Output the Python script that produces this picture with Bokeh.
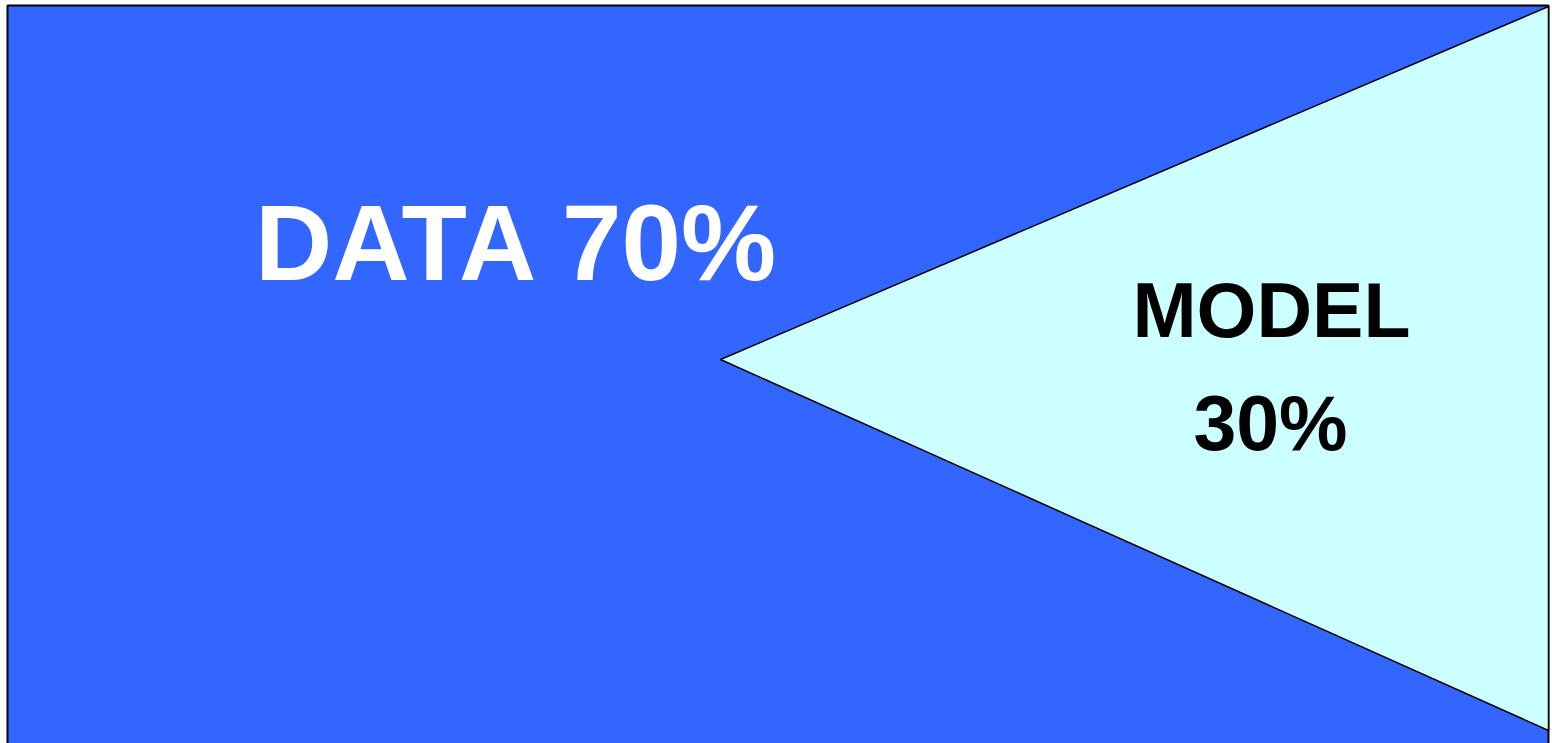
from bokeh.plotting import figure
from bokeh.models import Range1d
from bokeh.core.properties import value
from bokeh.embed import file_html
from bokeh.resources import INLINE

# --- data ---
labels = ["DATA", "MODEL"]
shares = [70, 30]
colors = ["#3366FF", "#CCFFFF"]
text_colors = ["white", "black"]

# frame of the whole (canvas pixel units)
frame_x = [7, 1548]
frame_y = [5, 760]
# wedge for the second category
wedge_x = [720, 1548, 1548]
wedge_y = [359, 6, 730]

W, H = 1552, 743
p = figure(width=W, height=H, output_backend="svg", toolbar_location=None,
           x_range=Range1d(0, W), y_range=Range1d(H, 0), min_border=0)
p.axis.visible = False
p.grid.visible = False
p.outline_line_color = None
p.background_fill_color = "white"
p.border_fill_color = "white"

p.quad(left=frame_x[0], right=frame_x[1], top=frame_y[0], bottom=frame_y[1],
       fill_color=colors[0], line_color="black", line_width=2)
p.patch(wedge_x, wedge_y, fill_color=colors[1], line_color="black", line_width=1.5)

font = value("Liberation Sans")
p.text(x=[517], y=[242], text=[f"{labels[0]} {shares[0]}%"], text_color=text_colors[0],
       text_font=font, text_font_style="bold", text_font_size="107px",
       text_align="center", text_baseline="alphabetic")
p.text(x=[1271, 1270], y=[309, 422], text=[labels[1], f"{shares[1]}%"],
       text_color=text_colors[1], text_font=font, text_font_style="bold",
       text_font_size="77px", text_align="center", text_baseline="alphabetic")

open("out.html", "w").write(file_html(p, INLINE))
